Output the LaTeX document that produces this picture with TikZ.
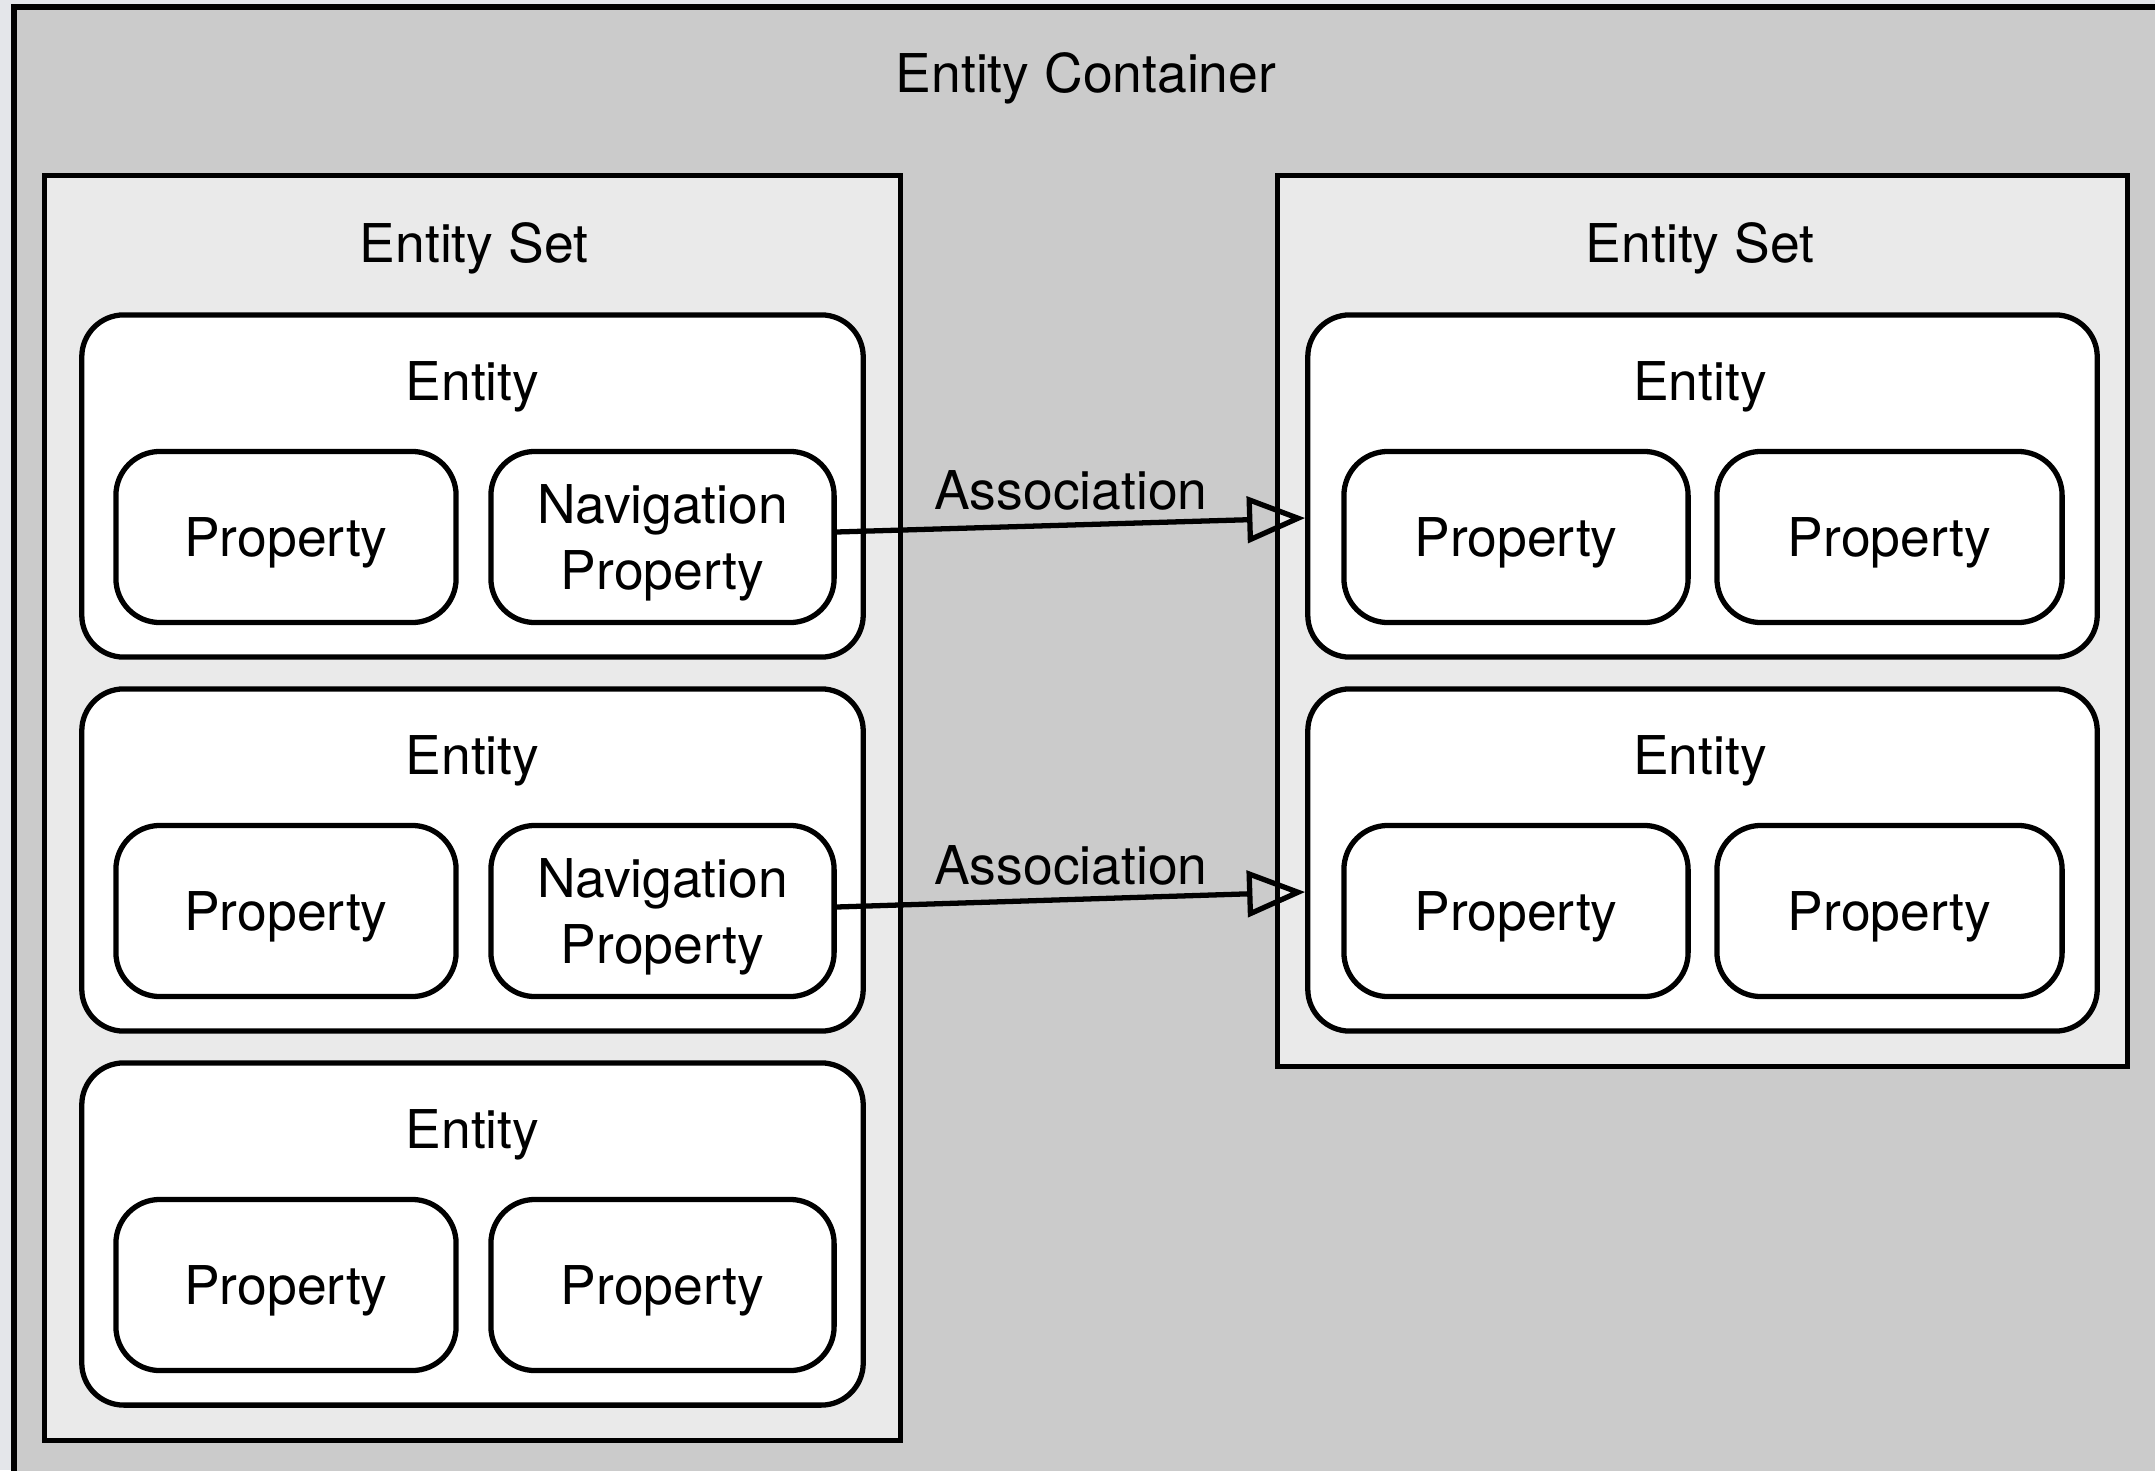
\documentclass[tikz,border=0pt]{standalone}
\usepackage{fontspec}
\setmainfont{TeX Gyre Heros}
\usetikzlibrary{arrows.meta,positioning}

\definecolor{pagebg}{HTML}{E4E6EA}
\definecolor{contgray}{HTML}{CBCBCB}
\definecolor{setgray}{HTML}{EAEAEA}

\tikzset{
  container/.style={draw, line width=1.5pt, fill=contgray},
  entityset/.style={draw, line width=1.5pt, fill=setgray, rectangle, inner sep=0pt},
  entity/.style={draw, line width=1.5pt, fill=white, rounded corners=0.42cm, minimum width=7.81cm, minimum height=3.42cm},
  prop/.style={draw, line width=1.5pt, fill=white, rounded corners=0.44cm, minimum width=3.40cm, minimum height=1.71cm, align=center, text depth=0pt},
  lbl/.style={text depth=0pt},
  assoc/.style={-{Triangle[open,length=0.58cm,width=0.46cm]}, line width=1.5pt},
}

\begin{document}
\begin{tikzpicture}[x=0.01cm, y=-0.01cm, every node/.append style={font=\fontsize{15.2pt}{18.8pt}\selectfont}]
\useasboundingbox (0,0) rectangle (2155,1470);
\clip (0,0) rectangle (2155,1470);
\fill[pagebg] (0,0) rectangle (2155,1470);
%% container
\draw[container] (14,7) rectangle (2220,1530);
\node[lbl] (contlabel) at (1086,73) {Entity Container};

%% left entity set
\node[entityset, minimum width=8.55cm, minimum height=12.64cm] (lset) at (472.5,808) {};
\node[lbl] (lsetlabel) at (474,243) {Entity Set};
\foreach \i/\y/\rtext in {1/486/{Navigation\\Property}, 2/860/{Navigation\\Property}, 3/1234/Property} {
  \node[entity] (le\i) at (472.5,\y) {};
  \node[lbl] (lelabel\i) at (472.5,\y-105) {Entity};
  \node[prop] (lp\i a) at (286,\y+51) {Property};
  \node[prop, minimum width=3.43cm] (lp\i b) at (662.5,\y+51) {\rtext};
}

%% right entity set
\node[entityset, minimum width=8.49cm, minimum height=8.90cm] (rset) at (1702.5,621) {};
\node[lbl] (rsetlabel) at (1700,243) {Entity Set};
\foreach \i/\y in {1/486, 2/860} {
  \node[entity, minimum width=7.89cm] (re\i) at (1702.5,\y) {};
  \node[lbl] (relabel\i) at (1700,\y-105) {Entity};
  \node[prop, minimum width=3.44cm] (rp\i a) at (1516,\y+51) {Property};
  \node[prop, minimum width=3.45cm] (rp\i b) at (1889.5,\y+51) {Property};
}

%% associations
\draw[assoc] ([yshift=0.05cm]lp1b.east) -- ([yshift=-0.32cm]re1.west) node[midway, above=0pt] {Association};
\draw[assoc] ([yshift=0.04cm]lp2b.east) -- ([yshift=-0.32cm]re2.west) node[midway, above=0pt] {Association};
\end{tikzpicture}
\end{document}
